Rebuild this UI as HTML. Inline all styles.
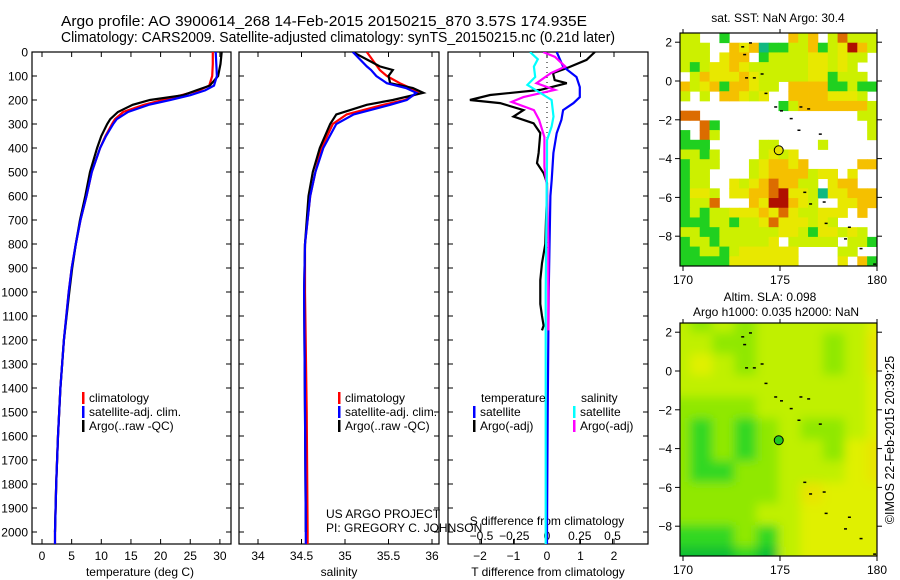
<!DOCTYPE html>
<html><head><meta charset="utf-8"><style>
html,body{margin:0;padding:0;background:#fff;}
svg{display:block;font-family:"Liberation Sans",sans-serif;}
</style></head><body>
<svg id="chart" width="900" height="580" viewBox="0 0 900 580" xmlns="http://www.w3.org/2000/svg">
<defs>
<clipPath id="c1"><rect x="32" y="52" width="199" height="492"/></clipPath>
<clipPath id="c2"><rect x="239" y="52" width="200" height="492"/></clipPath>
<clipPath id="c3"><rect x="448" y="52" width="200" height="492"/></clipPath>
<clipPath id="cm2"><rect x="680" y="323" width="197" height="233"/></clipPath>
<filter id="blur" x="-5%" y="-5%" width="110%" height="110%"><feGaussianBlur stdDeviation="5"/></filter>
</defs>
<text x="61" y="26" font-size="14.5" textLength="526" lengthAdjust="spacingAndGlyphs">Argo profile: AO 3900614_268 14-Feb-2015 20150215_870 3.57S 174.935E</text>
<text x="61" y="42" font-size="14.5" textLength="554" lengthAdjust="spacingAndGlyphs">Climatology: CARS2009. Satellite-adjusted climatology: synTS_20150215.nc (0.21d later)</text>
<g id="g"></g>
</svg>
<script>
// ---- profile data ----
const tDepths = [0,50,100,140,160,180,200,220,250,280,300,350,400,500,600,700,800,900,1000,1200,1400,1600,1800,2000,2050];
const tempClim = [28.8,28.8,28.7,28.2,26.5,23.5,20.4,17.2,13.7,12.3,11.8,10.7,9.8,8.4,7.5,6.5,5.7,5.0,4.5,3.7,3.1,2.7,2.4,2.2,2.2];
const tempSat  = [29.3,29.4,29.5,29.0,27.5,25.0,21.6,18.0,14.5,12.6,12.0,10.8,9.8,8.4,7.5,6.5,5.7,5.0,4.5,3.7,3.1,2.7,2.4,2.2,2.2];
const tempArgo = [30.3,30.1,29.7,28.3,26.0,23.8,18.2,15.3,12.8,11.5,11.0,10.0,9.3,8.1,7.3,6.4,5.7,5.1,4.6,3.7,3.1,2.7,2.4,2.2,null];
const sDepths = [0,60,75,100,130,150,170,200,220,260,300,400,500,600,800,1000,1500,2000,2050];
const salArgo = [35.09,35.4,35.55,35.5,35.52,35.78,35.9,35.55,35.25,34.9,34.83,34.71,34.63,34.58,34.54,34.53,34.54,34.55,null];
const salClim = [35.25,35.37,35.40,35.48,35.63,35.75,35.84,35.69,35.44,35.02,34.86,34.73,34.66,34.6,34.54,34.54,34.56,34.57,34.57];
const salSat  = [35.09,35.25,35.3,35.36,35.48,35.7,35.82,35.71,35.52,35.1,34.9,34.75,34.66,34.6,34.54,34.53,34.54,34.55,34.55];
const dTArgoDepth = [0,33,67,88,117,130,158,179,200,213,242,269,297,338,421,463,505,546,600,700,800,880,950,1050,1100,1140,1160];
const dTArgo = [1.43,1.18,0.59,0.18,0.23,0.59,-0.2,-1.7,-2.3,-1.4,-0.7,-1.0,-0.4,-0.2,-0.25,-0.3,-0.1,0,0,-0.03,-0.05,-0.15,-0.2,-0.2,-0.15,-0.1,-0.15];
const dTSatDepth = [0,61,104,146,188,213,242,283,338,421,533,600,1000,1500,2000,2050];
const dTSat = [0.29,0.48,0.88,0.98,0.98,0.79,0.48,0.43,0.29,0.19,0.14,0.1,0.05,0.02,0,0];
const dSSatDepth = [0,30,61,104,137,171,200,269,311,367,450,1000,1500,2000,2050];
const dSSat = [-0.13,-0.07,-0.1,-0.09,-0.15,-0.05,0.035,0.05,0.035,0,0,-0.01,-0.01,-0.01,-0.01];
const dSArgoDepth = [0,20,61,88,130,158,188,208,242,283,354,479,560,800,1160];
const dSArgo = [-0.03,0.06,0.14,0.03,-0.08,0.06,-0.18,-0.27,-0.1,-0.06,-0.02,-0.02,0,0.01,0.01];
const depthTicks = [0,100,200,300,400,500,600,700,800,900,1000,1100,1200,1300,1400,1500,1600,1700,1800,1900,2000];
const tempTicks = [0,5,10,15,20,25,30];
const salTicks = [34,34.5,35,35.5,36];
const salTickLabels = ['34','34.5','35','35.5','36'];
const dTTicks = [-2,-1,0,1,2];
const dSTicks = [-0.5,-0.25,0,0.25,0.5];
const dSTickLabels = ['\u22120.5','\u22120.25','0','0.25','0.5'];
// ---- map data (0.5 deg cells, rows from 2.5N southward) ----
const sstRows = [
"ll..g......olo.lrlll",
"lll..oyotgglloglydol",
"lll.yoo.gllllyylyll.",
"lglyyoyllllllyylyl..",
".loyyyoylllllyyglll.",
"olyogooyll.oooogglgg",
"l.l.ooyly..ooooyyyl.",
"..........gloooooool",
"rr................ll",
"..rg...............l",
"g.rl...............l",
"ggg.....ll....l.....",
"llgl....lyly........",
"glll...lyooyo.....oo",
"gll....lyoooolyy.y..",
"gll..ylyorooll.yoo..",
"gyyl.yyoordyyltyyooo",
"gllr...oyddoyl..yyoo",
"glgllyyyoyryllyyy.o.",
"gggllgllyryyylyl....",
"llggllllllyylgyylyl.",
"gllgllllly.lllll.llg",
"ggllglyyyyyy....ll..",
"gggggyyyyyyy....y.og"];
const slaRows = [
"lmlmllllly","llmmlllmlY","lylmlllmlY","llllllllly","mmmmllllly","mgmgmlmmly",
"mgmgmllmyY","mggmmlllyY","mmmmmlYyyy","mmmmllyyyy","gggmglyyyy","GGGgGlyyyy"];
const sstColor = {l:'#ccf000',y:'#e8e800',o:'#f5c000',r:'#dc6c00',d:'#b01000',g:'#20d020',t:'#10b880'};
const slaColor = {G:'#10c030',g:'#30d820',m:'#90e800',l:'#c0f000',y:'#e0f000',Y:'#e8e400'};

const NS='http://www.w3.org/2000/svg';
const G=document.getElementById('g');
function mk(tag,attrs,parent){const e=document.createElementNS(NS,tag);for(const k in attrs)e.setAttribute(k,attrs[k]);(parent||G).appendChild(e);return e;}
function txt(x,y,s,size,anchor,parent){const t=mk('text',{x:x,y:y,'font-size':size||12,'text-anchor':anchor||'start'},parent);t.textContent=s;return t;}

const yD=d=>52+d*0.24;
const xT=t=>42+5.93*t;
const xS=s=>345+87*(s-35);
const xdT=v=>547+33.5*v;
const xdS=v=>547+131*v;

function line(depths,vals,xf,color,clip,name,w){
  let pts=[];
  depths.forEach((d,i)=>{if(vals[i]!==null&&vals[i]!==undefined)pts.push(xf(vals[i]).toFixed(1)+','+yD(d).toFixed(1));});
  const p=mk('polyline',{points:pts.join(' '),fill:'none',stroke:color,'stroke-width':w||2.2,'clip-path':'url(#'+clip+')'});
  
  
}
function panel(x0,x1,name,xticks,xf){
  const r=mk('rect',{x:x0,y:52,width:x1-x0,height:492,fill:'none',stroke:'#000','stroke-width':1.2});
  
  
  depthTicks.forEach(d=>{mk('line',{x1:x0,x2:x0+5,y1:yD(d),y2:yD(d),stroke:'#000'});mk('line',{x1:x1,x2:x1-5,y1:yD(d),y2:yD(d),stroke:'#000'});});
  xticks.forEach(v=>{const x=xf(v);mk('line',{x1:x,x2:x,y1:52,y2:57,stroke:'#000'});mk('line',{x1:x,x2:x,y1:544,y2:539,stroke:'#000'});});
}
depthTicks.forEach(d=>{const t=txt(28,yD(d)+4.5,String(d),12,'end');
  
  });

// Panel 1
panel(32,231,'temperature-panel',tempTicks,xT);
tempTicks.forEach(v=>{const t=txt(xT(v),560,String(v),12,'middle');});
txt(140,576,'temperature (deg C)',12,'middle');
line(tDepths,tempClim,xT,'#ff0000','c1','temp-climatology-line');
line(tDepths,tempArgo,xT,'#000000','c1','temp-argo-line');
line(tDepths,tempSat,xT,'#0000ff','c1','temp-satellite-line');

// Panel 2
panel(239,439,'salinity-panel',salTicks,xS);
salTicks.forEach((v,i)=>{const t=txt(xS(v),560,salTickLabels[i],12,'middle');});
txt(339,576,'salinity',12,'middle');
line(sDepths,salClim,xS,'#ff0000','c2','sal-climatology-line');
line(sDepths,salArgo,xS,'#000000','c2','sal-argo-line');
line(sDepths,salSat,xS,'#0000ff','c2','sal-satellite-line');

// Panel 3
panel(448,648,'difference-panel',dTTicks,xdT);
dSTicks.forEach(v=>{const x=xdS(v);mk('line',{x1:x,x2:x,y1:544,y2:539,stroke:'#000'});});
dTTicks.forEach(v=>{const t=txt(xdT(v),560,String(v).replace('-','\u2212'),12,'middle');});
dSTicks.forEach((v,i)=>{const t=txt(xdS(v),540,dSTickLabels[i],12,'middle');});
txt(548,576,'T difference from climatology',12,'middle');
txt(547,525,'S difference from climatology',12,'middle');
mk('line',{x1:547,x2:547,y1:52,y2:250,stroke:'#000','stroke-dasharray':'1 4'});
line(dTArgoDepth,dTArgo,xdT,'#000000','c3','dT-argo-line');
line(dTSatDepth,dTSat,xdT,'#0000ff','c3','dT-satellite-line');
line(dSArgoDepth,dSArgo,xdS,'#ff00ff','c3','dS-argo-line');
line(dSSatDepth,dSSat,xdS,'#00ffff','c3','dS-satellite-line');

// legends
function leg(mx,y,color,label,name){
  mk('rect',{x:mx,y:y-10,width:2.5,height:12,fill:color});
  const t=txt(mx+7,y,label,12);
  
  
}
leg(82,402,'#ff0000','climatology','legend-climatology-1');
leg(82,416,'#0000ff','satellite-adj. clim.','legend-satellite-1');
leg(82,430,'#000000','Argo(..raw -QC)','legend-argo-1');
leg(338,402,'#ff0000','climatology','legend-climatology-2');
leg(338,416,'#0000ff','satellite-adj. clim.','legend-satellite-2');
leg(338,430,'#000000','Argo(..raw -QC)','legend-argo-2');
txt(481,402,'temperature',12);
leg(473,416,'#0000ff','satellite','legend-t-satellite');
leg(473,430,'#000000','Argo(-adj)','legend-t-argo');
txt(581,402,'salinity',12);
leg(573,416,'#00ffff','satellite','legend-s-satellite');
leg(573,430,'#ff00ff','Argo(-adj)','legend-s-argo');
txt(326,518,'US ARGO PROJECT',12);
txt(326,532,'PI: GREGORY C. JOHNSON',12);

// ---- maps ----
const lonX=l=>683+19.4*(l-170);
function drawMap(y0,rows,colors,name,blur,latY){
  const gm=mk('g',blur?{'clip-path':'url(#cm2)'}:{});
  
  
  const inner=blur?mk('g',{filter:'url(#blur)'},gm):gm;
  const nr=rows.length, nc=rows[0].length;
  const pad=blur?12:0;
  const cw=(197+2*pad)/nc, ch=(233+2*pad)/nr;
  rows.forEach((row,r)=>{for(let c=0;c<nc;c++){const k=row[c];if(!colors[k])continue;
    mk('rect',{x:(680-pad+c*cw).toFixed(2),y:(y0-pad+r*ch).toFixed(2),width:(cw+0.4).toFixed(2),height:(ch+0.4).toFixed(2),fill:colors[k]},inner);}});
  mk('rect',{x:680,y:y0,width:197,height:233,fill:'none',stroke:'#000','stroke-width':1.2});
  [170,175,180].forEach(l=>{const x=lonX(l);mk('line',{x1:x,x2:x,y1:y0+233,y2:y0+238,stroke:'#000'});mk('line',{x1:x,x2:x,y1:y0,y2:y0-4,stroke:'#000'});
    txt(x,y0+251,String(l),12,'middle');});
  [2,0,-2,-4,-6,-8].forEach(a=>{const y=latY(a);mk('line',{x1:680,x2:675,y1:y,y2:y,stroke:'#000'});mk('line',{x1:877,x2:882,y1:y,y2:y,stroke:'#000'});
    txt(672,y+4.5,String(a).replace('-','\u2212'),12,'end');});
  const isl=[[173,1.8],[173.1,1.4],[173.4,2],[173.2,0.2],[173.6,0.2],[174,0.4],[174.2,-0.6],[174.7,-1.3],[175,-1.5],[175.5,-1.9],[176,-1.3],[176.4,-1.4],[175.9,-2.5],[177,-2.7],[176.2,-5.7],[176.5,-6.3],[177.2,-6.2],[177.3,-7.3],[178.5,-7.5],[178.3,-8.1],[179.1,-8.6],[179.8,-9.4]];
  isl.forEach(p=>mk('rect',{x:lonX(p[0]),y:latY(p[1]),width:3,height:1.5,fill:'#000'}));
}
const lat1=a=>81-19.4*a;
const lat2=a=>371-19.4*a;
drawMap(33,sstRows,sstColor,'sst-map',false,lat1);
drawMap(323,slaRows,slaColor,'sla-map',true,lat2);
mk('circle',{cx:lonX(174.935),cy:lat1(-3.57),r:4.5,fill:'#e8e000',stroke:'#000','stroke-width':1});
mk('circle',{cx:lonX(174.935),cy:lat2(-3.57),r:4.5,fill:'#20c820',stroke:'#000','stroke-width':1});
txt(778,22,'sat. SST: NaN Argo: 30.4',12,'middle');
txt(770,301,'Altim. SLA: 0.098',12,'middle');
txt(776,316,'Argo h1000: 0.035 h2000: NaN',12,'middle');
const ts=mk('text',{x:0,y:0,'font-size':12.5,'text-anchor':'middle',transform:'translate(894,440) rotate(-90)'});
ts.textContent='\u00a9IMOS 22-Feb-2015 20:39:25';


</script>
</body></html>
